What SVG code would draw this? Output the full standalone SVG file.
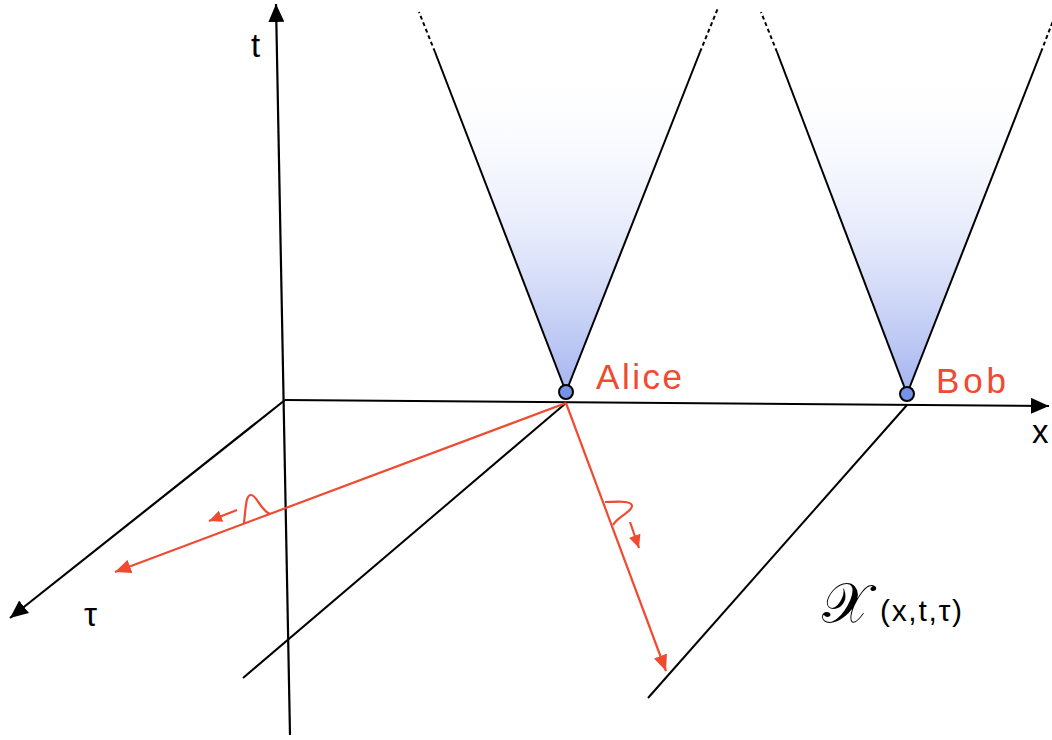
<svg xmlns="http://www.w3.org/2000/svg" width="1052" height="740" viewBox="0 0 1052 740">
<style>
.ax{stroke:#000;stroke-width:2.2;fill:none}
.ln{stroke:#000;stroke-width:2;fill:none}
.dash{stroke:#000;stroke-width:2;fill:none;stroke-dasharray:4 3}
.red{stroke:#f04a30;stroke-width:2.2;fill:none}
.lbl{font-family:"Liberation Sans",Arial,sans-serif;font-size:33px;fill:#000}
.name{font-family:"Liberation Sans",Arial,sans-serif;font-size:35px;fill:#f04a30}
.dot{fill:#7592e6;stroke:#000;stroke-width:2}
</style>
<defs>
<marker id="ab" markerUnits="userSpaceOnUse" markerWidth="20" markerHeight="16" refX="18" refY="8" orient="auto"><path d="M0,0 L18,8 L0,16 Z" fill="#000"/></marker>
<marker id="ar" markerUnits="userSpaceOnUse" markerWidth="18" markerHeight="14" refX="16" refY="7" orient="auto"><path d="M0,0 L16,7 L0,14 Z" fill="#f04a30"/></marker>
<marker id="ars" markerUnits="userSpaceOnUse" markerWidth="14" markerHeight="12" refX="13" refY="6" orient="auto"><path d="M0,0 L13,6 L0,12 Z" fill="#f04a30"/></marker>
<linearGradient id="cg" gradientUnits="userSpaceOnUse" x1="0" y1="392" x2="0" y2="60">
<stop offset="0" stop-color="#a3b3f0"/>
<stop offset="1" stop-color="#ffffff" stop-opacity="0"/>
</linearGradient>
</defs>
<g id="cones">
<g id="cone-alice">
<polygon points="566,392 435,52 700,52" fill="url(#cg)"/>
<line class="ln" x1="566" y1="392" x2="435" y2="52"/>
<line class="dash" x1="435" y1="52" x2="419" y2="12"/>
<line class="ln" x1="566" y1="392" x2="700" y2="52"/>
<line class="dash" x1="700" y1="52" x2="718" y2="8"/>
</g>
<g id="cone-bob">
<polygon points="907,394 777,52 1041,52" fill="url(#cg)"/>
<line class="ln" x1="907" y1="394" x2="777" y2="52"/>
<line class="dash" x1="777" y1="52" x2="761" y2="12"/>
<line class="ln" x1="907" y1="394" x2="1041" y2="52"/>
<line class="dash" x1="1041" y1="52" x2="1058" y2="8"/>
</g>
</g>
<g id="connectors">
<line id="t-axis" class="ax" x1="290" y1="735" x2="276" y2="4" marker-end="url(#ab)"/>
<line id="x-axis" class="ax" x1="285" y1="400" x2="1049" y2="406" marker-end="url(#ab)"/>
<line id="tau-axis" class="ax" x1="285" y1="400" x2="10" y2="618" marker-end="url(#ab)"/>
<line id="alice-tau" class="ln" x1="566" y1="403" x2="243" y2="678"/>
<line id="bob-tau" class="ln" x1="907" y1="405" x2="648" y2="698"/>
<line id="red1" class="red" x1="566" y1="403" x2="115" y2="572" marker-end="url(#ar)"/>
<line id="red2" class="red" x1="566" y1="403" x2="666" y2="671" marker-end="url(#ar)"/>
<path id="packet1" class="red" d="M244,523 C246,505 246,495 251,495 C257,495 260,510 270,514"/>
<line id="packet1-arrow" class="red" x1="237" y1="510" x2="209" y2="521" marker-end="url(#ars)"/>
<path id="packet2" class="red" d="M605,502 C615,502 632,500 632,506 C632,512 618,516 613,525"/>
<line id="packet2-arrow" class="red" x1="630" y1="522" x2="639" y2="548" marker-end="url(#ars)"/>
</g>
<g id="alice">
<circle class="dot" cx="566" cy="392" r="7"/>
<text class="name" x="596" y="389" textLength="86" lengthAdjust="spacing">Alice</text>
</g>
<g id="bob">
<circle class="dot" cx="907" cy="394" r="7"/>
<text class="name" x="936" y="393" textLength="70" lengthAdjust="spacing">Bob</text>
</g>
<g id="labels">
<text class="lbl" x="251" y="57">t</text>
<text class="lbl" x="1032" y="443">x</text>
<text class="lbl" x="84" y="626">τ</text>
<text x="822" y="622" style="font-family:'DejaVu Serif','Liberation Serif',serif;font-size:56px;fill:#000">𝒳</text>
<text x="880" y="621" textLength="82" lengthAdjust="spacing" style="font-family:'Liberation Sans',Arial,sans-serif;font-size:30px;fill:#000">(x,t,τ)</text>
</g>
</svg>
